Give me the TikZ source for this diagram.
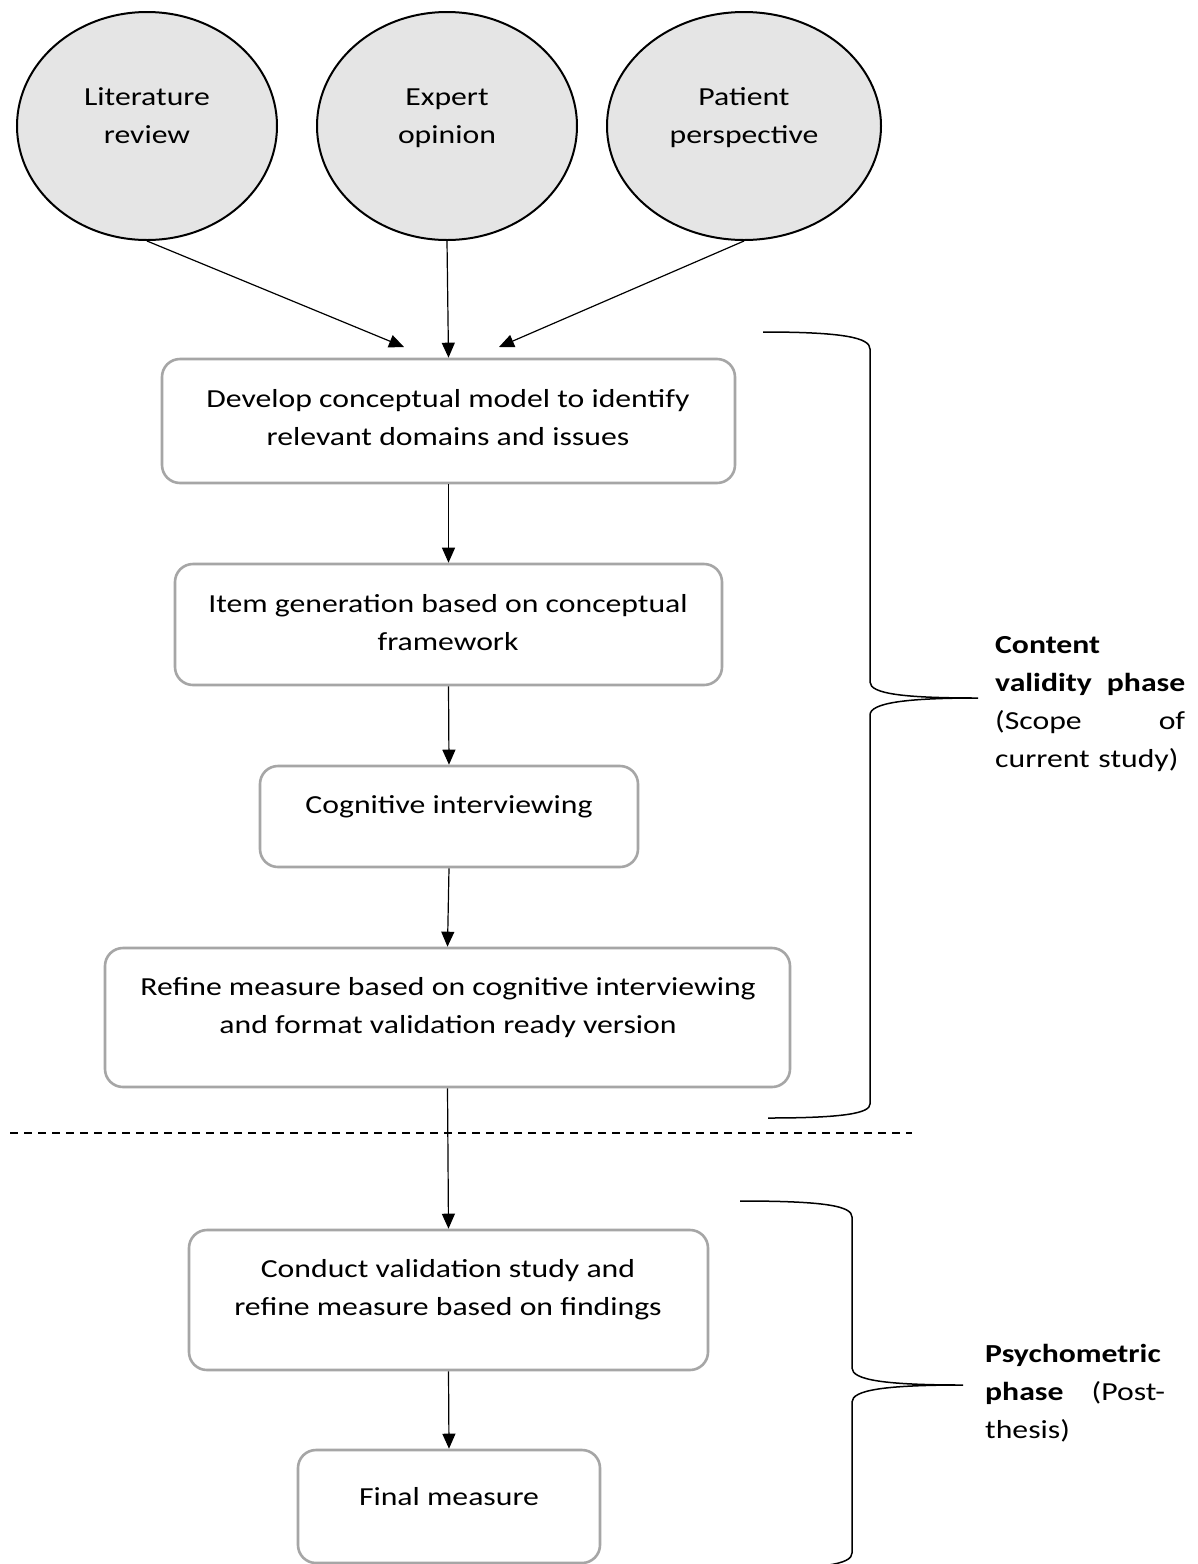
\documentclass[tikz,border=0pt]{standalone}
\usepackage{fontspec}
\setmainfont{Carlito}[FakeStretch=1.22]
\usetikzlibrary{shapes.geometric,arrows.meta}

\tikzset{
  body/.style={font=\fontsize{26}{38}\selectfont},
  source/.style={ellipse, draw=black, line width=2pt, fill=black!10, inner sep=0pt},
  stepbox/.style={rectangle, rounded corners=18pt, draw=black!35, line width=2.6pt, inner sep=0pt},
  steptext/.style={body, align=center, anchor=base, inner sep=0pt},
  flow/.style={line width=1.2pt, -{Triangle[length=15pt,width=13pt]}},
  brace/.style={line width=1.5pt},
  sidetext/.style={body, anchor=base west, inner sep=0pt, align=left}
}
% a line spread to a given width
\newcommand{\spreadline}[2]{\leavevmode\hbox to #1{#2}}

\begin{document}
\begin{tikzpicture}[x=1pt,y=-1pt]
  \useasboundingbox (0,0) rectangle (1198,1564);
  \fill[white] (0,0) rectangle (1198,1564);
  \clip (0,0) rectangle (1198,1564);

  % input sources
  \node[source, minimum width=260pt, minimum height=228pt] (lit) at (147,126) {};
  \node[source, minimum width=260pt, minimum height=228pt] (exp) at (447,126) {};
  \node[source, minimum width=274pt, minimum height=228pt] (pat) at (744,126) {};
  % (base of a multi-line label = its last line)
  \node[steptext] at (147,143) {Literature\\review};
  \node[steptext] at (447,143) {Expert\\opinion};
  \node[steptext] at (744,143) {Patient\\perspective};

  % process steps
  \node[stepbox, minimum width=573pt, minimum height=124pt] (dev) at (448.5,421) {};
  \node[stepbox, minimum width=547pt, minimum height=121pt] (item) at (448.5,624.5) {};
  \node[stepbox, minimum width=378pt, minimum height=101pt] (cog) at (449,816.5) {};
  \node[stepbox, minimum width=685pt, minimum height=139pt] (ref) at (447.5,1017.5) {};
  \node[stepbox, minimum width=519pt, minimum height=140pt] (con) at (448.5,1300) {};
  \node[stepbox, minimum width=302pt, minimum height=113pt] (fin) at (449,1506.5) {};

  \node[steptext] at (448,445) {Develop conceptual model to identify\\relevant domains and issues};
  \node[steptext] at (448,650) {Item generation based on conceptual\\framework};
  \node[steptext] at (449,813) {Cognitive interviewing};
  \node[steptext] at (448,1033) {Refine measure based on cognitive interviewing\\and format validation ready version};
  \node[steptext] at (448,1315) {Conduct validation study and\\refine measure based on findings};
  \node[steptext] at (449,1505) {Final measure};

  % connectors
  \coordinate (inL) at (404,347);
  \coordinate (inR) at (499,347);
  \draw[flow] (lit.south) -- (inL);
  \draw[flow] (exp.south) -- (dev.north);
  \draw[flow] (pat.south) -- (inR);
  \draw[flow] (dev.south) -- (item.north);
  \draw[flow] (item.south) -- (cog.north);
  \draw[flow] (cog.south) -- (ref.north);
  \draw[flow] (ref.south) -- (con.north);
  \draw[flow] (con.south) -- (fin.north);

  % phase separator
  \draw[line width=2pt, dash pattern=on 8pt off 6pt] (10,1133) -- (912,1133);

  % braces
  \draw[brace] (763,332) .. controls (845,332) and (870,338) .. (870,349)
    -- (870,682) .. controls (870,694) and (905,698) .. (978,698)
    .. controls (905,698) and (870,703) .. (870,715)
    -- (870,1104) .. controls (870,1113) and (845,1118) .. (768,1118);
  \draw[brace] (740,1201) .. controls (825,1201) and (852,1206) .. (852,1217)
    -- (852,1368) .. controls (852,1380) and (885,1385) .. (963,1385)
    .. controls (885,1385) and (852,1390) .. (852,1402)
    -- (852,1553) .. controls (852,1564) and (825,1569) .. (740,1569);

  % phase labels (justified lines)
  \node[sidetext, text width=190pt] (cvp) at (995,653)
    {\textbf{Content}\\
     \spreadline{190pt}{\textbf{validity}\hfill\textbf{phase}}\\
     \spreadline{190pt}{(Scope\hfill of}\\
     current study)};
  \node[sidetext, text width=180pt] (psp) at (985,1362)
    {\textbf{Psychometric}\\
     \spreadline{180pt}{\textbf{phase}\hfill(Post-}\\
     thesis)};
\end{tikzpicture}
\end{document}
